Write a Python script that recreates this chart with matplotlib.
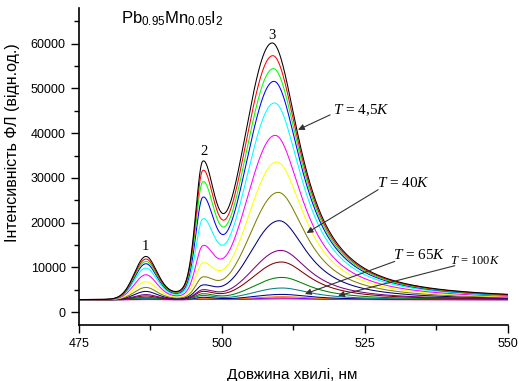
import numpy as np
import matplotlib
matplotlib.use("Agg")
import matplotlib.pyplot as plt

plt.rcParams["font.family"] = ["Liberation Sans", "DejaVu Sans"]
plt.rcParams["mathtext.fontset"] = "custom"
plt.rcParams["mathtext.rm"] = "Liberation Serif"
plt.rcParams["mathtext.it"] = "Liberation Serif:italic"
plt.rcParams["mathtext.sf"] = "Liberation Sans"

# peak heights, from T = 4.5 K (top) to the highest T
peak1 = [12430, 11850, 11320, 10800, 9840, 8340, 6780, 5500, 4610, 3900, 3600, 3300, 3100, 2950, 2880, 2820, 2790]
peak2 = [33690, 31610, 29080, 25640, 20800, 14830, 10960, 7830, 6040, 4990, 4610, 4090, 3710, 3300, 3100, 2950, 2850]
peak3 = [60180, 57340, 54430, 51590, 46760, 39510, 33560, 26760, 20420, 13780, 11190, 7740, 5370, 3940, 3450, 3150, 2950]
peak3_pos = [508.8, 508.9, 509.0, 509.1, 509.2, 509.3, 509.6, 509.85, 510.0, 510.3, 510.4, 510.5, 510.5, 510.5, 510.5, 510.5, 510.5]
colors = ["#000000", "#FF0000", "#00FF00", "#0000FF", "#00FFFF", "#FF00FF", "#FFFF00",
          "#808000", "#000080", "#800080", "#800000", "#008000", "#008080", "#0000A0",
          "#FF8000", "#8000FF", "#FF0080"]
baseline = 2750


def line(x, c, wl, wr, el, er):
    d = np.asarray(x, dtype=float) - c
    w = np.where(d < 0, wl, wr)
    eta = np.where(d < 0, el, er)
    u = (d / w) ** 2
    return (1 - eta) * np.exp(-np.log(2) * u) + eta / (1 + u)


def shapes(x, c3):
    return [line(x, 486.7, 2.4, 2.4, 0.0, 0.4),
            line(x, 496.6, 1.5, 2.4, 0.3, 0.3),
            line(x, c3, 5.8, 6.0, 0.0, 1.0)]


wl = np.linspace(475, 550, 1501)

fig = plt.figure(figsize=(5.19, 3.81), dpi=100)
ax = fig.add_axes([0.1522, 0.147, 0.8266, 0.832])

for i in reversed(range(len(colors))):
    c3 = peak3_pos[i]
    centers = [486.7, 496.6, c3]
    m = np.array([[s for s in shapes(c, c3)] for c in centers]).reshape(3, 3)
    heights = np.array([peak1[i], peak2[i], peak3[i]]) - baseline
    amp = np.clip(np.linalg.solve(m, heights), 0, None)
    y = baseline + sum(a * s for a, s in zip(amp, shapes(wl, c3)))
    ax.plot(wl, y, color=colors[i], lw=0.75)

ax.set_xlim(475, 550)
ax.set_ylim(-2900, 68000)
ax.set_xticks([475, 500, 525, 550])
ax.set_xticks([487.5, 512.5, 537.5], minor=True)
ax.set_yticks(range(0, 60001, 10000))
ax.set_yticks(range(5000, 65001, 10000), minor=True)
ax.tick_params(which="major", length=6, width=1, labelsize=9)
ax.tick_params(which="minor", length=3.5, width=1)
for s in ["top", "right"]:
    ax.spines[s].set_visible(False)
for s in ["left", "bottom"]:
    ax.spines[s].set_linewidth(1.2)

ax.set_xlabel("Довжина хвилі, нм", fontsize=11)
ax.set_ylabel("Інтенсивність ФЛ (відн.од.)", fontsize=11.5)
ax.xaxis.set_label_coords(0.4977, -0.136)
ax.yaxis.set_label_coords(-0.1375, 0.575)

ax.text(491.3, 65600, r"$\mathsf{Pb_{0.95}Mn_{0.05}I_2}$", ha="center", va="center", fontsize=12)

serif = ["Liberation Serif", "DejaVu Serif"]
for lab, xx, yy in [("1", 486.65, 14700), ("2", 496.85, 35900), ("3", 508.8, 61800)]:
    ax.text(xx, yy, lab, ha="center", va="center", fontsize=10.5, family=serif)

arrow = dict(arrowstyle="-|>", color="#333333", lw=0.8, mutation_scale=9, shrinkA=0, shrinkB=0)
notes = [(r"$T$ = 4,5$K$", 519.4, 45200, 518.9, 44100, 513.3, 40760, 11),
         (r"$T$ = 40$K$", 527.1, 28930, 527.3, 27360, 514.8, 17670, 11),
         (r"$T$ = 65$K$", 529.9, 12820, 530.2, 11320, 514.5, 4030, 11),
         (r"$T$ = 100$K$", 539.9, 11480, 540.7, 10360, 520.3, 3650, 9)]
for lab, tx, ty, sx, sy, hx, hy, fs in notes:
    ax.text(tx, ty, lab, ha="left", va="center", fontsize=fs, family=serif)
    ax.annotate("", xy=(hx, hy), xytext=(sx, sy), arrowprops=arrow)

fig.savefig("out.png", dpi=100)
